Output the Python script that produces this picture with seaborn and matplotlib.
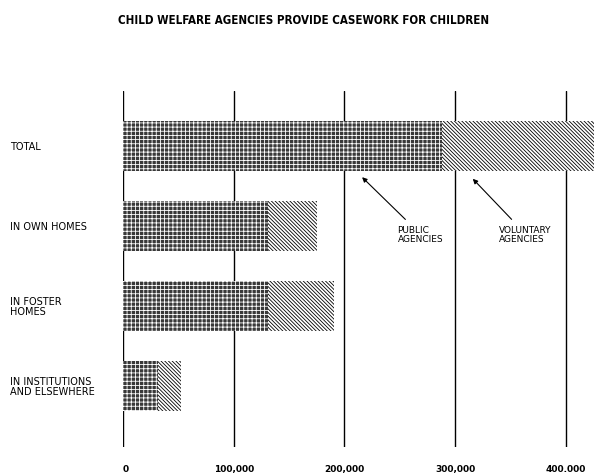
import numpy as np
import pandas as pd
import matplotlib
matplotlib.use('Agg')
import matplotlib.pyplot as plt
import matplotlib.transforms as mtransforms
import seaborn as sns

# values (number of children)
categories = ['TOTAL', 'IN OWN HOMES', 'IN FOSTER\nHOMES', 'IN INSTITUTIONS\nAND ELSEWHERE']
public = [288000, 131000, 131000, 32000]
voluntary = [142000, 44000, 60000, 20000]
ticks = [0, 100000, 200000, 300000, 400000]
tick_labels = ['0', '100,000', '200,000', '300,000', '400.000']

df = pd.DataFrame({'category': categories, 'public': public, 'voluntary': voluntary})
df['all'] = df['public'] + df['voluntary']

sns.set_style('white')
plt.rcParams['font.family'] = ['DejaVu Sans']
plt.rcParams['hatch.linewidth'] = 0.6
plt.rcParams['text.color'] = 'black'
plt.rcParams['xtick.color'] = 'black'

fig = plt.figure(figsize=(5.94, 4.77), dpi=100)
ax = fig.add_axes([123 / 594, 1 - 448 / 477, 1 - 123 / 594, (448 - 92) / 477])

# vertical rules
for t in ticks:
    ax.axvline(t, color='black', lw=1.0, zorder=0)

# voluntary part = full bar, public drawn over it
sns.barplot(data=df, y='category', x='all', ax=ax, color='white', width=0.625,
            orient='h', edgecolor='black', linewidth=0, hatch='\\' * 9, zorder=2)
sns.barplot(data=df, y='category', x='public', ax=ax, color='#383838', width=0.625,
            orient='h', edgecolor='white', linewidth=0, hatch='++++', zorder=3)

ax.set_xlim(0, 425500)
ax.set_ylim(3.7625, -0.6875)
for s in ax.spines.values():
    s.set_visible(False)
ax.set_xlabel('')
ax.set_ylabel('')
ax.set_xticks(ticks)
ax.set_xticklabels(tick_labels, fontsize=6.5, fontweight='bold')
ax.tick_params(axis='x', length=0, pad=12)
for lab in ax.get_xticklabels():
    lab.set_ha('left' if lab.get_text() == '0' else 'center')
ax.set_yticks([])

# category labels at left
trans = mtransforms.blended_transform_factory(fig.transFigure, ax.transData)
for i, c in enumerate(categories):
    ax.text(10 / 594, i, c, transform=trans, fontsize=7, ha='left', va='center',
            linespacing=1.0)

# arrows to the parts of the total bar
ax.annotate('PUBLIC\nAGENCIES', xy=(216000, 0.39), xytext=(248000, 1.1),
            fontsize=6.5, ha='left', va='center', linespacing=1.1,
            arrowprops=dict(arrowstyle='-|>', color='black', lw=0.8,
                            mutation_scale=7, shrinkA=2, shrinkB=0))
ax.annotate('VOLUNTARY\nAGENCIES', xy=(316000, 0.41), xytext=(340000, 1.1),
            fontsize=6.5, ha='left', va='center', linespacing=1.1,
            arrowprops=dict(arrowstyle='-|>', color='black', lw=0.8,
                            mutation_scale=7, shrinkA=2, shrinkB=0))

fig.text(304 / 594, 1 - 21 / 477, 'CHILD WELFARE AGENCIES PROVIDE CASEWORK FOR CHILDREN',
         ha='center', va='center', fontsize=8.3, fontweight='bold',
         fontstretch='condensed', family=['DejaVu Sans'])

fig.savefig('out.png', dpi=100)
